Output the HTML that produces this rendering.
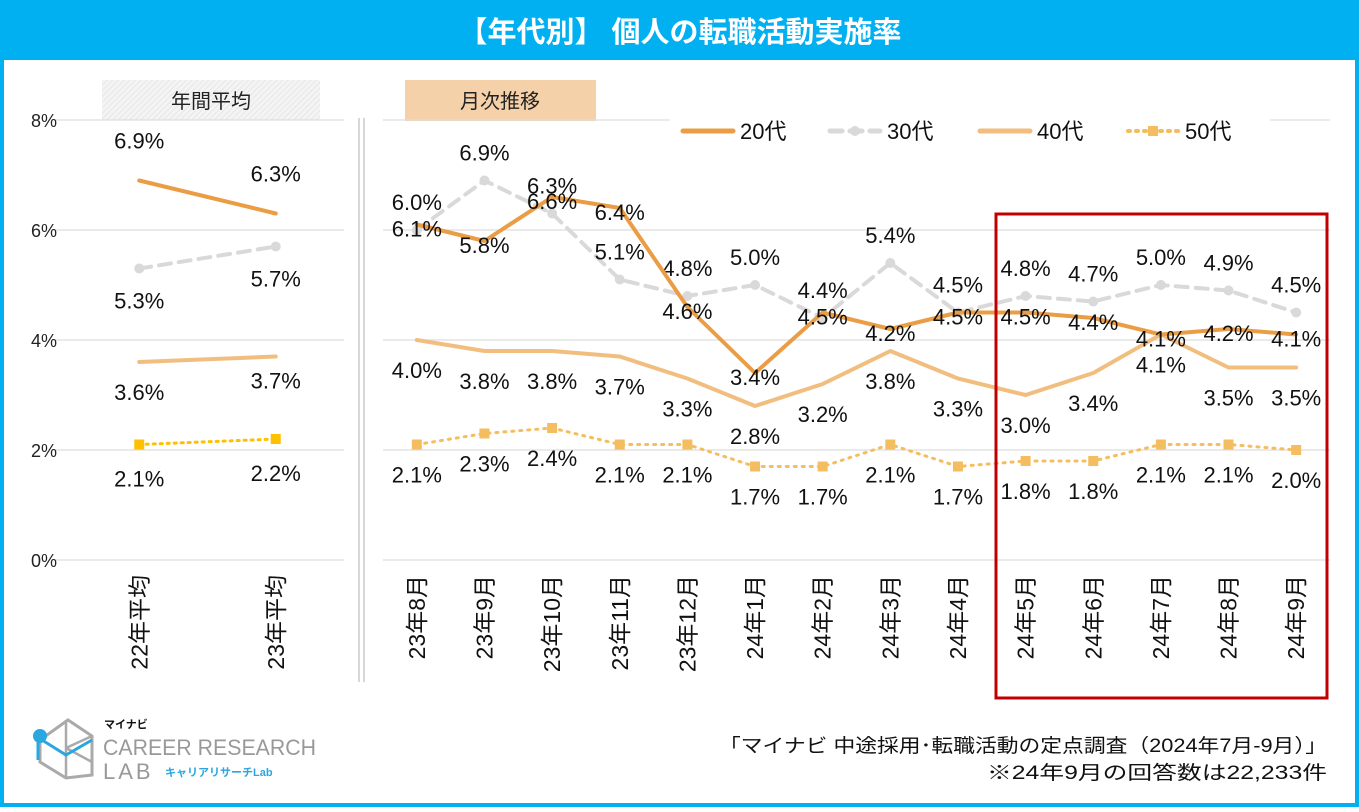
<!DOCTYPE html>
<html><head><meta charset="utf-8"><style>
body{margin:0;background:#fff;}
svg text{font-family:"Liberation Sans","Noto Sans CJK JP",sans-serif;}
</style></head><body>
<svg width="1359" height="807" viewBox="0 0 1359 807">
<defs><pattern id="hatch" width="4" height="4" patternUnits="userSpaceOnUse" patternTransform="rotate(45)"><rect width="4" height="4" fill="#f4f4f4"/><line x1="0" y1="0" x2="0" y2="4" stroke="#e2e2e2" stroke-width="1.5"/></pattern></defs>
<rect x="2" y="2" width="1355" height="803" fill="#fff" stroke="#00B0F0" stroke-width="4"/>
<rect x="0" y="0" width="1359" height="60" fill="#00B0F0"/>
<text x="680" y="42" text-anchor="middle" font-size="29" font-weight="bold" fill="#fff">【年代別】 個人の転職活動実施率</text>
<rect x="102" y="80" width="218" height="40" fill="url(#hatch)"/>
<text x="211" y="108" text-anchor="middle" font-size="20" fill="#222">年間平均</text>
<rect x="405" y="80" width="191" height="41" fill="#F5D1A9"/>
<text x="500" y="108" text-anchor="middle" font-size="20" fill="#222">月次推移</text>
<line x1="359" y1="118" x2="359" y2="682" stroke="#ccc" stroke-width="1.5"/>
<line x1="364" y1="118" x2="364" y2="682" stroke="#ccc" stroke-width="1.5"/>
<g id="grid"></g><g id="plot"></g>
<rect x="996" y="214" width="331" height="484" fill="none" stroke="#C00000" stroke-width="3"/>
<g id="legend"></g>
<g>
<path d="M40 740 L68 720 L92 736 L92 775 L66 778 L40 762 Z" fill="none" stroke="#aaa" stroke-width="3"/>
<path d="M66 720 L66 778 M66 748 L92 736 M66 748 L92 762" fill="none" stroke="#aaa" stroke-width="2.5"/>
<path d="M38 740 L38 760 M42 740 L66 755 L92 740" fill="none" stroke="#2aa7df" stroke-width="3"/>
<circle cx="40" cy="736" r="7" fill="#2aa7df"/>
<text x="104" y="728" font-size="11" font-weight="bold" fill="#111">マイナビ</text>
<text x="103" y="755" font-size="22" fill="#999" textLength="213" lengthAdjust="spacingAndGlyphs">CAREER RESEARCH</text>
<text x="103" y="779" font-size="22" fill="#999" letter-spacing="3">LAB</text>
<text x="165" y="776" font-size="11" font-weight="bold" fill="#2aa7df">キャリアリサーチLab</text>
</g>
<text x="1327" y="752" text-anchor="end" font-size="19" fill="#111" textLength="608" lengthAdjust="spacingAndGlyphs">「マイナビ 中途採用･転職活動の定点調査（2024年7月-9月）」</text>
<text x="1327" y="779" text-anchor="end" font-size="19" fill="#111" textLength="340" lengthAdjust="spacingAndGlyphs">※24年9月の回答数は22,233件</text>
</svg>
<script>
const yTicks=[0,2,4,6,8];
const annualCats=["22年平均","23年平均"];
const monthCats=["23年8月","23年9月","23年10月","23年11月","23年12月","24年1月","24年2月","24年3月","24年4月","24年5月","24年6月","24年7月","24年8月","24年9月"];
const annual20=[6.9,6.3];
const annual30=[5.3,5.7];
const annual40=[3.6,3.7];
const annual50=[2.1,2.2];
const month20=[6.1,5.8,6.6,6.4,4.6,3.4,4.5,4.2,4.5,4.5,4.4,4.1,4.2,4.1];
const month30=[6.0,6.9,6.3,5.1,4.8,5.0,4.4,5.4,4.5,4.8,4.7,5.0,4.9,4.5];
const month40=[4.0,3.8,3.8,3.7,3.3,2.8,3.2,3.8,3.3,3.0,3.4,4.1,3.5,3.5];
const month50=[2.1,2.3,2.4,2.1,2.1,1.7,1.7,2.1,1.7,1.8,1.8,2.1,2.1,2.0];
const seriesNames=["20代","30代","40代","50代"];

const NS="http://www.w3.org/2000/svg";
const y=v=>560-v*55;
const xA=i=>71+(344-71)/annualCats.length*(i+0.5);
const xM=i=>383+(1330-383)/monthCats.length*(i+0.5);
function mk(tag,attrs,parent,txt){const e=document.createElementNS(NS,tag);for(const k in attrs)e.setAttribute(k,attrs[k]);if(txt!==undefined)e.textContent=txt;parent.appendChild(e);return e;}
const grid=document.getElementById('grid'),plot=document.getElementById('plot'),leg=document.getElementById('legend');
yTicks.forEach(t=>{
 let l=mk('line',{x1:53,x2:344,y1:y(t),y2:y(t),stroke:'#ddd','stroke-width':1.2},grid);
 
 
 let l2=mk('line',{x1:383,x2:1330,y1:y(t),y2:y(t),stroke:'#ddd','stroke-width':1.2},grid);
 
 
 let tx=mk('text',{x:57,y:y(t)+7,'text-anchor':'end','font-size':18,fill:'#222'},grid,t+'%');
 
 
});
function catLabel(x,txt){const t=mk('text',{x:0,y:0,'text-anchor':'end','font-size':23,fill:'#111',transform:`translate(${x+8},575) rotate(-90)`},grid,txt);
 
 }
annualCats.forEach((c,i)=>catLabel(xA(i),c));
monthCats.forEach((c,i)=>catLabel(xM(i),c));
const styles=[
 {c:'#EB9D45',w:4,dash:null,marker:null},
 {c:'#D9D9D9',w:4,dash:'12 8',marker:'circle'},
 {c:'#F1BE80',w:4,dash:null,marker:null},
 {c:'#F4BE60',w:3,dash:'2 6',marker:'square'}];
function series(vals,xf,st,name,dy,fill){
 const pts=vals.map((v,i)=>xf(i)+','+y(v)).join(' ');
 const p=mk('polyline',{points:pts,fill:'none',stroke:st.c,'stroke-width':st.w,'stroke-linecap':'round','stroke-linejoin':'round'},plot);
 if(st.dash)p.setAttribute('stroke-dasharray',st.dash);
 
 
 vals.forEach((v,i)=>{
  let m=null;
  if(st.marker==='circle')m=mk('circle',{cx:xf(i),cy:y(v),r:5,fill:fill||st.c},plot);
  if(st.marker==='square')m=mk('rect',{x:xf(i)-5,y:y(v)-5,width:10,height:10,fill:fill||st.c},plot);
  if(m){
  }
  const t=mk('text',{x:xf(i),y:y(v)+dy[i%dy.length],'text-anchor':'middle','font-size':22,fill:'#111'},plot,v.toFixed(1)+'%');
  
  
 });
}
series(annual20,xA,styles[0],'annual-20s',[-32],null);
series(annual30,xA,{...styles[1]},'annual-30s',[40],null);
series(annual40,xA,{...styles[2]},'annual-40s',[38,32],null);
series(annual50,xA,{c:'#FFC000',w:3,dash:'2 5',marker:'square'},'annual-50s',[42],null);
series(month30,xM,styles[1],'monthly-30s',[-20],null);
series(month40,xM,styles[2],'monthly-40s',[38],null);
series(month50,xM,styles[3],'monthly-50s',[38],null);
series(month20,xM,styles[0],'monthly-20s',[12],null);
mk('rect',{x:670,y:112,width:600,height:38,fill:'#fff'},leg);
const lx=[683,830,980,1128];
seriesNames.forEach((n,i)=>{
 const st=styles[i];
 const l=mk('line',{x1:lx[i],x2:lx[i]+50,y1:131,y2:131,stroke:st.c,'stroke-width':st.w+1,'stroke-linecap':'round'},leg);
 if(st.dash)l.setAttribute('stroke-dasharray',st.dash);
 
 
 if(st.marker==='circle')mk('circle',{cx:lx[i]+25,cy:131,r:5,fill:st.c},leg);
 if(st.marker==='square')mk('rect',{x:lx[i]+20,y:126,width:10,height:10,fill:st.c},leg);
 const t=mk('text',{x:lx[i]+57,y:139,'font-size':22,fill:'#111'},leg,n);
 
 
});
</script>
</body></html>
